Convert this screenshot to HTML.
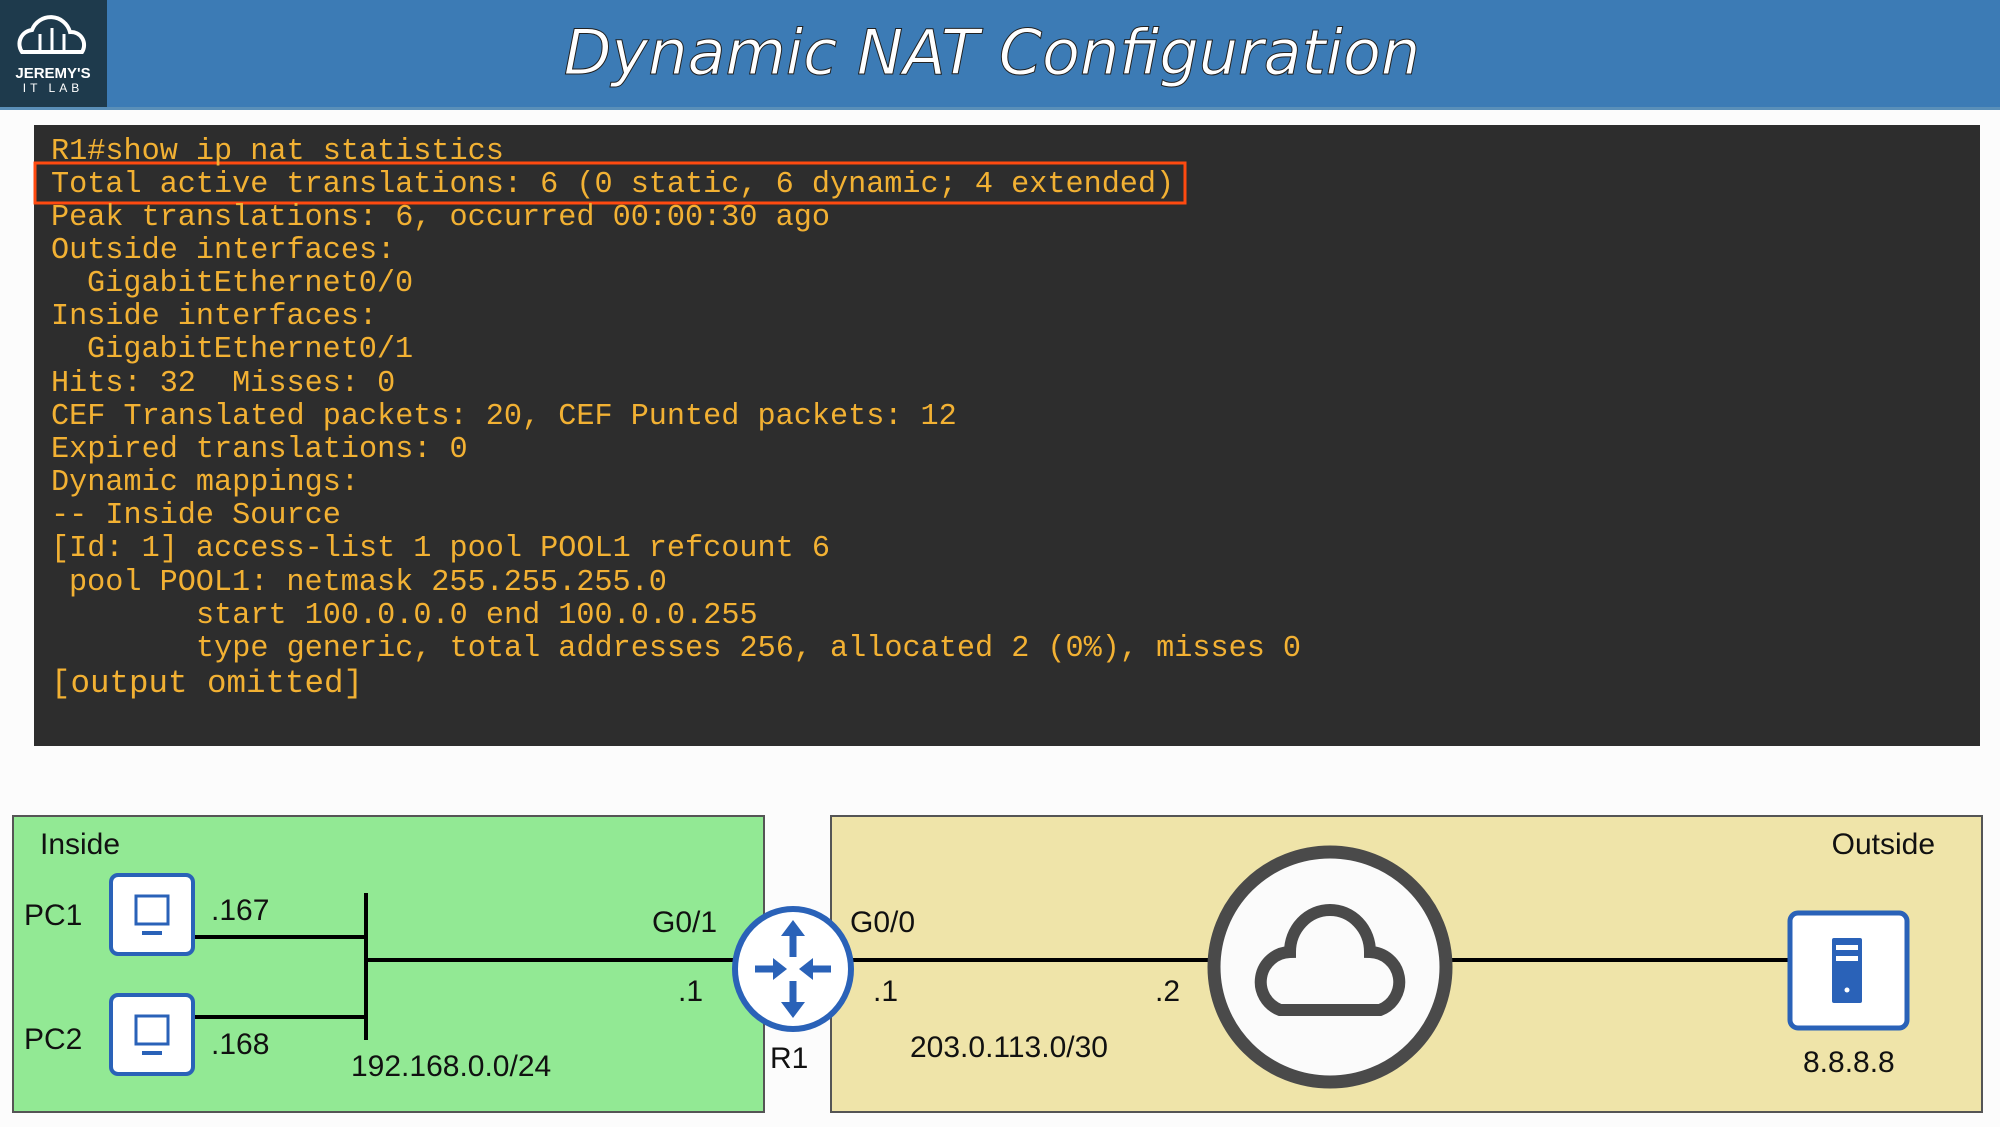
<!DOCTYPE html>
<html><head><meta charset="utf-8"><style>
html,body{margin:0;padding:0;background:#fcfcfc;}
svg{display:block}
.t{font-family:"Liberation Mono",monospace;font-size:30.2px;fill:#f2b133;}
.l{font-family:"Liberation Sans",sans-serif;font-size:30px;fill:#111;}
</style></head><body>
<svg width="2000" height="1127" viewBox="0 0 2000 1127" xmlns="http://www.w3.org/2000/svg">
<rect x="0" y="0" width="2000" height="108" fill="#3c7bb5"/>
<rect x="0" y="0" width="107" height="108" fill="#1e3a4c"/>
<rect x="0" y="107" width="2000" height="3" fill="#5a8fb8"/>
<path d="M22 52 a14 14 0 0 1 10 -22 a20 20 0 0 1 38 2 a13 13 0 0 1 12 20 z" fill="none" stroke="#fff" stroke-width="4"/>
<path d="M40 34 v16 M52 28 v22 M64 34 v16" stroke="#fff" stroke-width="3"/>
<text x="53" y="78" text-anchor="middle" font-family="Liberation Sans" font-weight="bold" font-size="15" fill="#fff">JEREMY'S</text>
<text x="53" y="92" text-anchor="middle" font-family="Liberation Sans" font-size="12" letter-spacing="4" fill="#fff">IT LAB</text>
<text x="992" y="74" text-anchor="middle" font-family="DejaVu Sans" font-style="italic" font-size="62" fill="#fff" stroke="#222" stroke-width="1">Dynamic NAT Configuration</text>

<rect x="34" y="125" width="1946" height="621" fill="#2d2d2d"/>
<rect x="35" y="163" width="1150" height="40" fill="none" stroke="#ff4a10" stroke-width="3"/>
<g class="t">
<text x="51" y="159">R1#show ip nat statistics</text>
<text x="51" y="192">Total active translations: 6 (0 static, 6 dynamic; 4 extended)</text>
<text x="51" y="225">Peak translations: 6, occurred 00:00:30 ago</text>
<text x="51" y="258">Outside interfaces:</text>
<text x="87" y="291">GigabitEthernet0/0</text>
<text x="51" y="324">Inside interfaces:</text>
<text x="87" y="357">GigabitEthernet0/1</text>
<text x="51" y="391">Hits: 32&#160; Misses: 0</text>
<text x="51" y="424">CEF Translated packets: 20, CEF Punted packets: 12</text>
<text x="51" y="457">Expired translations: 0</text>
<text x="51" y="490">Dynamic mappings:</text>
<text x="51" y="523">-- Inside Source</text>
<text x="51" y="556">[Id: 1] access-list 1 pool POOL1 refcount 6</text>
<text x="69" y="590">pool POOL1: netmask 255.255.255.0</text>
<text x="196" y="623">start 100.0.0.0 end 100.0.0.255</text>
<text x="196" y="656">type generic, total addresses 256, allocated 2 (0%), misses 0</text>
<text x="51" y="692" style="font-size:32.5px">[output omitted]</text>
</g>

<rect x="13" y="816" width="751" height="296" fill="#92e994" stroke="#555" stroke-width="2"/>
<rect x="831" y="816" width="1151" height="296" fill="#efe4a9" stroke="#555" stroke-width="2"/>

<g stroke="#000" stroke-width="4" fill="none">
<path d="M194 937 H366 M194 1017 H366 M366 893 V1040 M366 960 H735"/>
<path d="M850 960 H1212 M1448 960 H1790"/>
</g>
<g>
<rect x="111" y="875" width="82" height="79" rx="7" fill="#fff" stroke="#2a62b8" stroke-width="4"/>
<rect x="136" y="896" width="32" height="28" fill="none" stroke="#2a62b8" stroke-width="3"/>
<rect x="142" y="931" width="20" height="4" fill="#2a62b8"/>
<rect x="111" y="995" width="82" height="79" rx="7" fill="#fff" stroke="#2a62b8" stroke-width="4"/>
<rect x="136" y="1016" width="32" height="28" fill="none" stroke="#2a62b8" stroke-width="3"/>
<rect x="142" y="1051" width="20" height="4" fill="#2a62b8"/>
</g>
<ellipse cx="793" cy="969" rx="58" ry="60" fill="#fff" stroke="#2a62b8" stroke-width="6"/>
<g fill="#2a62b8" stroke="#2a62b8" stroke-width="7">
<path d="M793 957 V932 M793 981 V1006 M755 969 H778 M831 969 H808" fill="none"/>
</g>
<g fill="#2a62b8">
<path d="M781 936 L793 920 L805 936 Z"/>
<path d="M781 1002 L793 1018 L805 1002 Z"/>
<path d="M773 958 L787 969 L773 980 Z"/>
<path d="M813 958 L799 969 L813 980 Z"/>
</g>
<ellipse cx="1330" cy="967" rx="116" ry="115" fill="#fbfbfb" stroke="#4a4a4a" stroke-width="13"/>
<path d="M1280 1010 H1380 a30 30 0 0 0 -10 -58 a40 42 0 0 0 -80 0 a30 30 0 0 0 -10 58 z" fill="none" stroke="#4a4a4a" stroke-width="12"/>
<rect x="1790" y="913" width="117" height="115" rx="8" fill="#fff" stroke="#2a62b8" stroke-width="5"/>
<rect x="1832" y="938" width="30" height="65" rx="2" fill="#2a62b8"/>
<rect x="1836" y="945" width="22" height="5" fill="#fff"/>
<rect x="1836" y="956" width="22" height="5" fill="#fff"/>
<circle cx="1847" cy="990" r="2.5" fill="#fff"/>

<g class="l">
<text x="40" y="854">Inside</text>
<text x="1935" y="854" text-anchor="end">Outside</text>
<text x="24" y="925">PC1</text>
<text x="24" y="1049">PC2</text>
<text x="211" y="920">.167</text>
<text x="211" y="1054">.168</text>
<text x="652" y="932">G0/1</text>
<text x="678" y="1001">.1</text>
<text x="770" y="1068">R1</text>
<text x="850" y="932">G0/0</text>
<text x="873" y="1001">.1</text>
<text x="1155" y="1001">.2</text>
<text x="910" y="1057">203.0.113.0/30</text>
<text x="351" y="1076">192.168.0.0/24</text>
<text x="1803" y="1072">8.8.8.8</text>
</g>
</svg>
</body></html>
